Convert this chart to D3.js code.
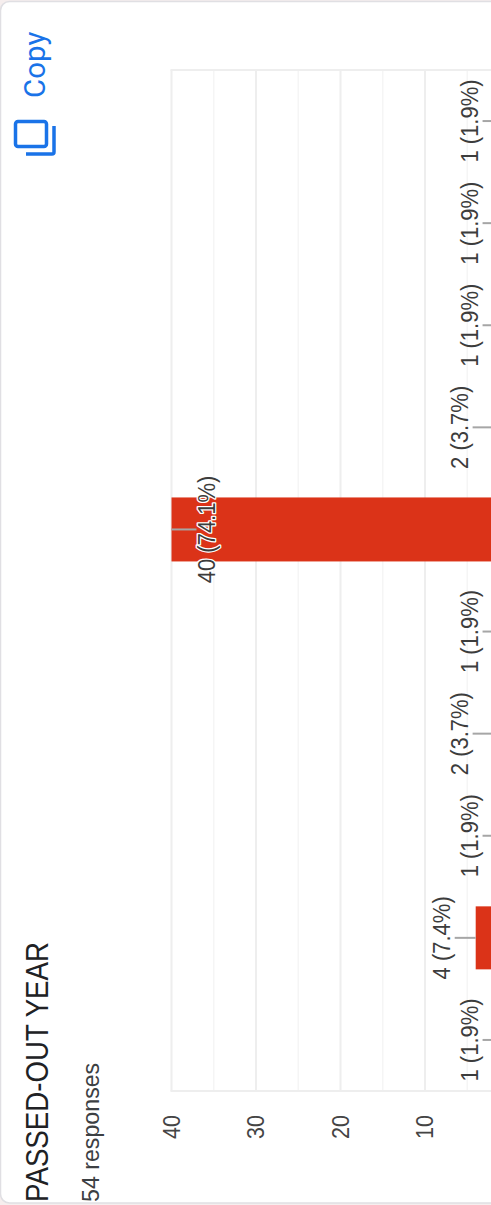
<!DOCTYPE html>
<html>
<head>
<meta charset="utf-8">
<script src="https://cdn.jsdelivr.net/npm/d3@7"></script>
<style>
html,body{margin:0;padding:0;background:#f6eeee;}
svg{display:block;}
text{font-family:"Liberation Sans",Arial,sans-serif;}
</style>
</head>
<body>
<div id="chart"></div>
<script>
const title = "PASSED-OUT YEAR";
const subtitle = "54 responses";
const copyLabel = "Copy";
const categories = ["c1","c2","c3","c4","c5","c6","c7","c8","c9","c10"];
const counts = [1,4,1,2,1,40,2,1,1,1];
const percents = ["1.9","7.4","1.9","3.7","1.9","74.1","3.7","1.9","1.9","1.9"];
const majorTicks = [40,30,20,10];
const minorTicks = [35,25,15,5];

const W = 491, H = 1205;
const svg = d3.select("#chart").append("svg").attr("width",W).attr("height",H);

// card
svg.append("rect").attr("x",0.5).attr("y",1.5).attr("width",W+20).attr("height",H-3.5)
  .attr("rx",9).attr("fill","#fff").attr("stroke","#e0dfe3").attr("stroke-width",1.5);

const x = d3.scaleLinear().domain([0,40]).range([509.5,171.5]);
const y = d3.scaleBand().domain(categories).range([1091,70]).paddingInner(0).paddingOuter(0);
const yc = c => y(c) + y.bandwidth()/2;

// grid
const g = svg.append("g");
g.selectAll("line.minor").data(minorTicks).join("line").attr("class","minor")
  .attr("x1",d=>x(d)).attr("x2",d=>x(d)).attr("y1",y.range()[1]).attr("y2",y.range()[0])
  .attr("stroke","#f5f5f5").attr("stroke-width",1.5);
g.selectAll("line.major").data(majorTicks).join("line").attr("class","major")
  .attr("x1",d=>x(d)).attr("x2",d=>x(d)).attr("y1",y.range()[1]).attr("y2",y.range()[0])
  .attr("stroke","#eeeeee").attr("stroke-width",2);
[y.range()[0],y.range()[1]].forEach(v=>{
  g.append("line").attr("x1",x(40)-1).attr("x2",W).attr("y1",v).attr("y2",v)
   .attr("stroke","#eeeeee").attr("stroke-width",2);
});

// axis
const axis = d3.axisBottom(x).tickValues(majorTicks).tickSize(0).tickPadding(0);
const ag = svg.append("g").attr("transform","translate(0,1127)").call(axis);
ag.select(".domain").remove();
ag.selectAll(".tick text")
  .attr("x",0).attr("y",0).attr("dy",0)
  .attr("transform","translate(7.5,0) rotate(-90) scale(1,1.08)")
  .attr("text-anchor","middle")
  .attr("font-size",21.5).attr("fill","#444")
  .style("font-family",'"Liberation Sans",Arial,sans-serif');

// bars
const barW = d => d>10 ? 64 : 63;
svg.selectAll("rect.bar").data(categories).join("rect").attr("class","bar")
  .attr("x",(c,i)=>x(counts[i]))
  .attr("y",(c,i)=>yc(c)-barW(counts[i])/2)
  .attr("width",(c,i)=>x(0)-x(counts[i]))
  .attr("height",(c,i)=>barW(counts[i]))
  .attr("fill","#db3318");

// leaders
const inside = v => x(v) < 200;
const leaderEnd = v => inside(v) ? x(v)+25 : x(v)-(v>=4?21:v==2?20:18.5);
svg.selectAll("line.lead").data(categories).join("line").attr("class","lead")
  .attr("x1",(c,i)=>x(counts[i])).attr("x2",(c,i)=>leaderEnd(counts[i]))
  .attr("y1",c=>yc(c)).attr("y2",c=>yc(c))
  .attr("stroke","#a6a6a6").attr("stroke-width",2);

// labels
const baseX = v => inside(v) ? x(v)+43 : leaderEnd(v)-5;
const lbl = svg.selectAll("text.lbl").data(categories).join("text").attr("class","lbl")
  .attr("transform",(c,i)=>`translate(${baseX(counts[i])},${yc(c)}) rotate(-90) scale(1,1.06)`)
  .attr("text-anchor","middle").attr("font-size",22).attr("fill","#3c3c3c")
  .text((c,i)=>`${counts[i]} (${percents[i]}%)`);
lbl.filter((c,i)=>counts[i]===40)
  .attr("stroke","#fff").attr("stroke-width",2.5).attr("paint-order","stroke").attr("stroke-linejoin","round");

// header
svg.append("text").attr("transform","translate(48,1202) rotate(-90) scale(1,1.11)")
  .attr("font-size",27.7).attr("fill","#202124").text(title);
svg.append("text").attr("transform","translate(99,1202) rotate(-90)")
  .attr("font-size",23.2).attr("fill","#3c4043").text(subtitle);
svg.append("text").attr("transform","translate(44.5,98) rotate(-90)")
  .attr("font-size",29.5).attr("fill","#1a73e8").style("font-family","Roboto,sans-serif").text(copyLabel);

// copy icon
svg.append("rect").attr("x",15.5).attr("y",121.5).attr("width",31).attr("height",25).attr("rx",2.5)
  .attr("fill","none").attr("stroke","#1a73e8").attr("stroke-width",3.5);
svg.append("path").attr("d","M26 154 H52 a2 2 0 0 0 2 -2 V126")
  .attr("fill","none").attr("stroke","#1a73e8").attr("stroke-width",3.5);
</script>
</body>
</html>
